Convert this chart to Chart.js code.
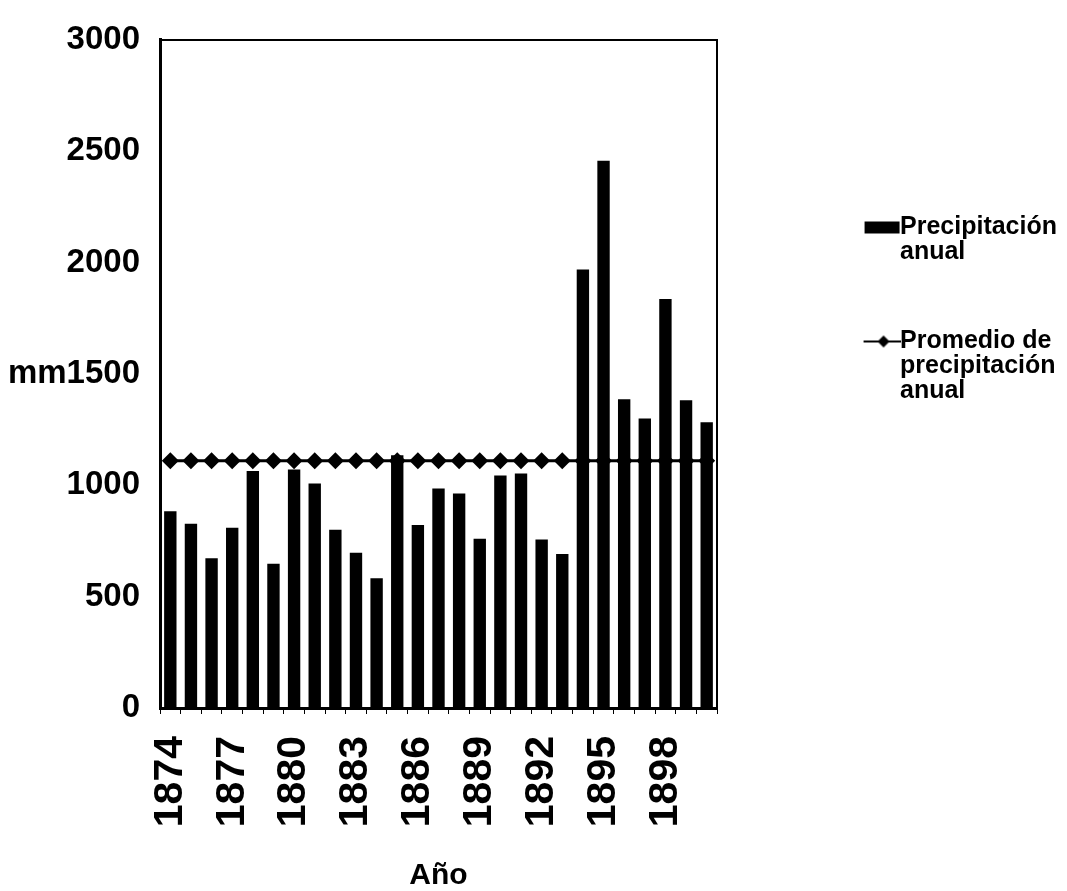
<!DOCTYPE html>
<html lang="es">
<head>
<meta charset="utf-8">
<title>Precipitación anual 1874–1900</title>
<script src="https://cdn.jsdelivr.net/npm/chart.js@4/dist/chart.umd.min.js"></script>
<style>
  html, body { margin: 0; padding: 0; background: #ffffff; }
  #wrap { width: 1067px; height: 891px; }
</style>
</head>
<body>
<div id="wrap"><canvas id="chart" width="1067" height="891"></canvas></div>
<script>
// Años de registro
const years = ['1874', '1875', '1876', '1877', '1878', '1879', '1880', '1881', '1882',
  '1883', '1884', '1885', '1886', '1887', '1888', '1889', '1890', '1891', '1892',
  '1893', '1894', '1895', '1896', '1897', '1898', '1899', '1900'];

// Años rotulados en el eje horizontal
const shownYears = ['1874', '1877', '1880', '1883', '1886', '1889', '1892', '1895', '1898'];

// Precipitación anual (mm)
const precipitation = [883, 827, 672, 809, 1064, 648, 1071, 1008, 800, 697, 583, 1135, 822,
  985, 963, 760, 1044, 1053, 756, 691, 1969, 2457, 1386, 1300, 1836, 1382, 1283];

// Promedio de precipitación anual (mm)
const average = [1110, 1110, 1110, 1110, 1110, 1110, 1110, 1110, 1110, 1110, 1110, 1110, 1110,
  1110, 1110, 1110, 1110, 1110, 1110, 1110, 1110, 1110, 1110, 1110, 1110, 1110, 1110];

// Rango del eje vertical (mm)
const yMin = 0;
const yMax = 3000;
const yStep = 500;

// Textos de la leyenda, una línea por elemento
const legendPrecipLines = ['Precipitación', 'anual'];
const legendAverageLines = ['Promedio de', 'precipitación', 'anual'];

const FONT = '"Liberation Sans", Arial, Helvetica, sans-serif';

// Símbolos de la leyenda: se dibujan pegados al texto, en la parte derecha del lienzo
function makeSymbol(draw) {
  const cv = document.createElement('canvas');
  cv.width = 62;
  cv.height = 18;
  const c = cv.getContext('2d');
  c.fillStyle = '#000';
  c.strokeStyle = '#000';
  draw(c);
  return cv;
}

// Barra: rectángulo negro
const barSymbol = makeSymbol((c) => {
  c.fillRect(26, 3, 35, 12);
});

// Promedio: línea con rombo
const lineSymbol = makeSymbol((c) => {
  c.lineWidth = 2;
  c.beginPath();
  c.moveTo(25, 9);
  c.lineTo(62, 9);
  c.stroke();
  c.beginPath();
  c.moveTo(45, 3);
  c.lineTo(51, 9);
  c.lineTo(45, 15);
  c.lineTo(39, 9);
  c.closePath();
  c.fill();
});

const chart = new Chart(document.getElementById('chart'), {
  data: {
    labels: years,
    datasets: [
      {
        type: 'bar',
        label: 'Precipitación anual',
        data: precipitation,
        backgroundColor: '#000000',
        borderWidth: 0,
        categoryPercentage: 1.0,
        barPercentage: 0.6,
        order: 0
      },
      {
        type: 'line',
        label: 'Promedio de precipitación anual',
        data: average,
        borderColor: '#000000',
        borderWidth: 3,
        backgroundColor: '#000000',
        pointStyle: 'rectRot',
        pointRadius: 8.5,
        pointBackgroundColor: '#000000',
        pointBorderWidth: 0,
        tension: 0,
        fill: false,
        order: 1
      }
    ]
  },
  options: {
    responsive: false,
    animation: false,
    devicePixelRatio: 1,
    layout: { padding: 0 },
    plugins: {
      tooltip: { enabled: false },
      legend: {
        position: 'right',
        align: 'start',
        maxWidth: 400,
        title: {
          display: true,
          text: '',
          font: { size: 10, lineHeight: 1 },
          padding: { top: 141, bottom: 0 }
        },
        labels: {
          color: '#000000',
          font: { family: FONT, size: 25, weight: 'bold', lineHeight: 1 },
          usePointStyle: true,
          pointStyleWidth: 36,
          boxHeight: 12,
          padding: 64,
          generateLabels(chart) {
            const items = Chart.defaults.plugins.legend.labels.generateLabels(chart);
            items.forEach((item) => {
              if (item.datasetIndex === 0) {
                item.text = legendPrecipLines;
                item.pointStyle = barSymbol;
              } else {
                item.text = legendAverageLines;
                item.pointStyle = lineSymbol;
              }
            });
            return items;
          }
        }
      }
    },
    scales: {
      x: {
        type: 'category',
        position: 'bottom',
        offset: true,
        grid: {
          display: true,
          drawOnChartArea: false,
          drawTicks: true,
          tickLength: 6,
          color: '#000000',
          lineWidth: 1
        },
        border: { display: true, color: '#000000', width: 3 },
        ticks: {
          autoSkip: false,
          maxRotation: 90,
          minRotation: 90,
          padding: 22,
          color: '#000000',
          font: { family: FONT, size: 41, weight: 'bold' },
          callback(value, index) {
            const y = years[index];
            return shownYears.includes(y) ? y : '';
          }
        },
        title: {
          display: true,
          text: 'Año',
          color: '#000000',
          font: { family: FONT, size: 30, weight: 'bold', lineHeight: 1 },
          padding: { top: 0, bottom: 0 }
        },
        afterFit(scale) { scale.height = 183; }
      },
      xTop: {
        type: 'category',
        position: 'top',
        offset: true,
        grid: { display: false },
        ticks: { display: false },
        border: { display: true, color: '#000000', width: 2 },
        afterFit(scale) { scale.height = 33; }
      },
      y: {
        type: 'linear',
        position: 'left',
        min: yMin,
        max: yMax,
        grid: { display: false, drawTicks: false },
        border: { display: true, color: '#000000', width: 3 },
        ticks: {
          stepSize: yStep,
          padding: 20,
          color: '#000000',
          font: { family: FONT, size: 33, weight: 'bold' },
          callback(value) {
            return value === 1500 ? 'mm1500' : String(value);
          }
        },
        afterFit(scale) { scale.width = 160; }
      },
      yRight: {
        type: 'linear',
        position: 'right',
        grid: { display: false, drawTicks: false },
        ticks: { display: false },
        border: { display: true, color: '#000000', width: 2 },
        afterFit(scale) {
          const legendWidth = scale.chart.legend ? scale.chart.legend.width : 0;
          scale.width = Math.max(0, scale.chart.width - 717 - legendWidth);
        }
      }
    }
  }
});
</script>
</body>
</html>
